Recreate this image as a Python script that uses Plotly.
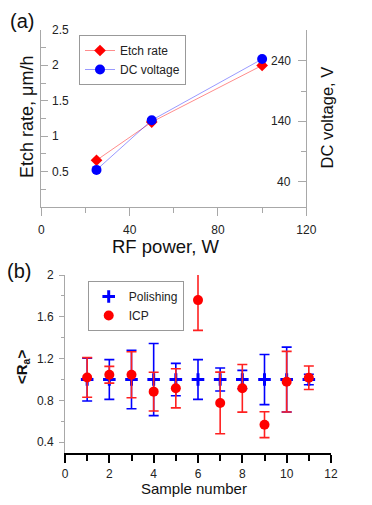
import plotly.graph_objects as go

# ---- Panel (a) data ----
rf_power = [25, 50, 100]
etch_rate = [0.66, 1.2, 2.0]
dc_voltage = [60, 142, 243]

xa_ticks = [0, 40, 80, 120]
ya_ticks = [0.5, 1, 1.5, 2, 2.5]
ya_ticktext = ["0.5", "1", "1.5", "2", "2.5"]
ya2_ticks = [40, 140, 240]
ya2_ticktext = ["40", "140", "240"]

# ---- Panel (b) data ----
samples = [1, 2, 3, 4, 5, 6, 7, 8, 9, 10, 11]
polish_ra = [1.0, 1.0, 1.0, 1.0, 1.0, 1.0, 1.0, 1.0, 1.0, 1.0, 1.0]
polish_err = [0.205, 0.19, 0.28, 0.345, 0.155, 0.19, 0.11, 0.088, 0.24, 0.31, 0.05]
icp_ra = [1.02, 1.046, 1.046, 0.884, 0.916, 1.76, 0.776, 0.916, 0.568, 0.979, 1.017]
icp_err = [0.19, 0.08, 0.22, 0.185, 0.187, 0.29, 0.295, 0.228, 0.124, 0.29, 0.113]

xb_ticks = [0, 2, 4, 6, 8, 10, 12]
yb_ticks = [0.4, 0.8, 1.2, 1.6, 2.0]
yb_ticktext = ["0.4", "0.8", "1.2", "1.6", "2"]

W, H = 372, 505
FONT = "Arial, Liberation Sans, sans-serif"
GRAY = "#a8a8a8"


def px(x):
    return x / W


def py(y):
    return 1 - y / H


fig = go.Figure()

fig.add_trace(go.Scatter(
    x=rf_power, y=etch_rate, name="Etch rate", mode="lines+markers",
    xaxis="x", yaxis="y", legend="legend",
    line=dict(color="rgba(255,0,0,0.45)", width=1),
    marker=dict(symbol="diamond", size=9, color="#ff0000"),
))
fig.add_trace(go.Scatter(
    x=rf_power, y=dc_voltage, name="DC voltage", mode="lines+markers",
    xaxis="x", yaxis="y2", legend="legend",
    line=dict(color="rgba(0,0,255,0.4)", width=1),
    marker=dict(symbol="circle", size=10, color="#0000ff"),
))

fig.add_trace(go.Scatter(
    x=samples, y=polish_ra, name="Polishing", mode="markers",
    xaxis="x2", yaxis="y3", legend="legend2",
    marker=dict(symbol="cross-thin", size=9, color="#0000ff",
                line=dict(color="#0000ff", width=3)),
    error_y=dict(type="data", array=polish_err, visible=True,
                 color="#0000ff", thickness=1.6, width=5),
    cliponaxis=False,
))
fig.add_trace(go.Scatter(
    x=samples, y=icp_ra, name="ICP", mode="markers",
    xaxis="x2", yaxis="y3", legend="legend2",
    marker=dict(symbol="circle", size=10, color="#ff0000"),
    error_y=dict(type="data", array=icp_err, visible=True,
                 color="#ff2020", thickness=1.6, width=5),
    cliponaxis=False,
))

tickfont = dict(family=FONT, size=12, color="#222")

fig.update_layout(
    width=W, height=H,
    margin=dict(l=0, r=0, t=0, b=0, pad=0, autoexpand=False),
    paper_bgcolor="white", plot_bgcolor="white",
    font=dict(family=FONT, color="#222"),
    showlegend=True,
    xaxis=dict(
        domain=[px(41.3), px(306.3)], range=[0, 120], anchor="y",
        tickvals=xa_ticks, ticks="outside", ticklen=8, tickcolor=GRAY,
        ticklabelstandoff=4,
        showline=True, linecolor=GRAY, linewidth=1, automargin=False,
        showgrid=False, zeroline=False, tickfont=tickfont,
        minor=dict(tickvals=[20, 60, 100], ticks="outside", ticklen=5,
                   tickcolor=GRAY, showgrid=False),
    ),
    yaxis=dict(
        domain=[py(207), py(30)], range=[0, 2.5], anchor="x",
        tickvals=ya_ticks, ticks="inside", ticklen=7, tickcolor=GRAY,
        showticklabels=False, automargin=False,
        showline=True, linecolor=GRAY, linewidth=1,
        showgrid=False, zeroline=False,
        minor=dict(tickvals=[0.25, 0.75, 1.25, 1.75, 2.25], ticks="inside",
                   ticklen=5, tickcolor=GRAY, showgrid=False),
    ),
    yaxis2=dict(
        overlaying="y", side="right", anchor="x", range=[-1.3, 291],
        tickvals=ya2_ticks, ticks="inside", ticklen=8, tickcolor=GRAY,
        showticklabels=False, automargin=False,
        showline=True, linecolor=GRAY, linewidth=1,
        showgrid=False, zeroline=False,
        minor=dict(tickvals=[90, 190], ticks="inside", ticklen=5,
                   tickcolor=GRAY, showgrid=False),
    ),
    xaxis2=dict(
        domain=[px(65), px(331)], range=[0, 12], anchor="y3",
        tickvals=xb_ticks, ticks="outside", ticklen=8, tickwidth=2,
        ticklabelstandoff=1, automargin=False,
        tickcolor="#000", showline=True, linecolor="#000", linewidth=2,
        showgrid=False, zeroline=False, tickfont=tickfont,
        minor=dict(tickvals=[1, 3, 5, 7, 9, 11], ticks="outside", ticklen=6,
                   tickwidth=2, tickcolor="#000", showgrid=False),
    ),
    yaxis3=dict(
        domain=[py(452.7), py(275)], range=[0.3, 2.0], anchor="x2",
        tickvals=yb_ticks, ticktext=yb_ticktext,
        ticks="outside", ticklen=5, tickcolor=GRAY,
        ticklabelstandoff=3, automargin=False,
        showline=True, linecolor=GRAY, linewidth=1,
        showgrid=False, zeroline=False, tickfont=tickfont,
        minor=dict(tickvals=[0.6, 1.0, 1.4, 1.8], ticks="outside", ticklen=3,
                   tickcolor=GRAY, showgrid=False),
    ),
    legend=dict(
        x=px(79), y=py(35), xanchor="left", yanchor="top",
        bordercolor="#999", borderwidth=1, bgcolor="white",
        font=dict(family=FONT, size=12, color="#222"),
        tracegroupgap=0, itemwidth=30,
    ),
    legend2=dict(
        x=px(87.7), y=py(281), xanchor="left", yanchor="top",
        bordercolor="#999", borderwidth=1, bgcolor="white",
        font=dict(family=FONT, size=12, color="#222"),
        tracegroupgap=0, itemwidth=30,
    ),
)

annotations = [
    dict(text="(a)", x=px(22), y=py(20.7), font=dict(size=20)),
    dict(text="(b)", x=px(19), y=py(270.7), font=dict(size=20)),
    dict(text="Etch rate, \u03bcm/h", x=px(27), y=py(117), textangle=-90,
         font=dict(size=18)),
    dict(text="DC voltage, V", x=px(326.5), y=py(118), textangle=-90,
         font=dict(size=16.5)),
    dict(text="RF power, W", x=px(165), y=py(246), font=dict(size=18.5)),
    dict(text="Sample number", x=px(194), y=py(488), font=dict(size=15)),
    dict(text="<b>&lt;R<sub>a</sub>&gt;</b>", x=px(22), y=py(367),
         textangle=-90, font=dict(size=15)),
]
for a in annotations:
    a.update(xref="paper", yref="paper", showarrow=False,
             xanchor="center", yanchor="middle")
    a["font"].update(family=FONT, color="#111")

# tick labels drawn inside the plot area for panel (a)
for v, t in zip(ya_ticks, ya_ticktext):
    annotations.append(dict(
        text=t, xref="x domain", x=0, yref="y", y=v, xshift=9,
        xanchor="left", yanchor="middle", showarrow=False,
        font=dict(family=FONT, size=12, color="#222")))
for v, t in zip(ya2_ticks, ya2_ticktext):
    annotations.append(dict(
        text=t, xref="x domain", x=1, yref="y2", y=v, xshift=-13,
        xanchor="right", yanchor="middle", showarrow=False,
        font=dict(family=FONT, size=12, color="#222")))

fig.update_layout(annotations=annotations)

fig.write_html("out.html", config={"displayModeBar": False},
               post_script="document.body.style.margin='0px';")
